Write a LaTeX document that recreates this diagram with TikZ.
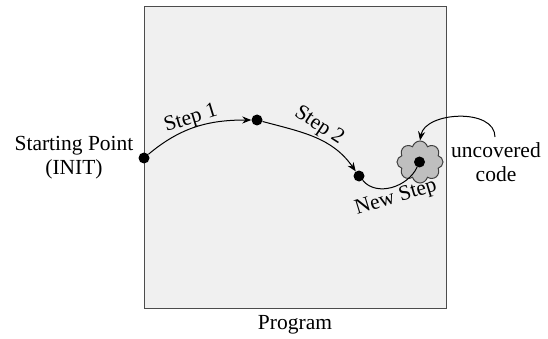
\documentclass[tikz,border=0pt]{standalone}
\usepackage{fontspec}
\setmainfont{Liberation Serif}
\usetikzlibrary{shapes.symbols,arrows.meta}
\begin{document}
\begin{tikzpicture}[x=1pt,y=-1pt,
  every node/.style={font=\fontsize{21.5}{24}\selectfont},
  dot/.style={circle,fill=black,inner sep=0pt,minimum size=11pt},
  conn/.style={line width=1pt,-{Stealth[length=9pt,width=7pt]}},
  lbl/.style={inner sep=0pt,align=center}]
\useasboundingbox (0,0) rectangle (548,339);
\node[draw=black!70,fill=black!6,line width=1pt,minimum width=302pt,minimum height=302pt,inner sep=0pt] (prog) at (295,157.5) {};
\node[lbl] (plabel) at (295,325) {Program};
\node[cloud,cloud puffs=8,aspect=1,draw=black!75,fill=black!25,line width=1pt,minimum width=46pt,minimum height=42pt,inner sep=0pt] (cloud) at (420,162) {};
\node[dot] (start) at (144,158) {};
\node[dot] (s1) at (257,120) {};
\node[dot] (s2) at (359,176) {};
\node[dot] (unc) at (419.5,162) {};
\node[lbl] (initlabel) at (74,158) {Starting Point\\(INIT)};
\node[lbl] (unclabel) at (496,162) {uncovered\\code};
\draw[conn] (start) to[out=40,in=180] (s1);
\draw[conn] (s1) to[out=-15,in=125] (s2);
\draw[line width=1pt] (s2) to[out=-50,in=-115] (unc);
\coordinate (ustart) at (495,137);
\draw[conn] (ustart) to[out=90,in=80] (cloud.north);
\node[lbl,rotate=17] (l1) at (191,119) {Step 1};
\node[lbl,rotate=-33] (l2) at (319,126) {Step 2};
\node[lbl,rotate=17] (l3) at (396,198) {New Step};
\end{tikzpicture}
\end{document}
